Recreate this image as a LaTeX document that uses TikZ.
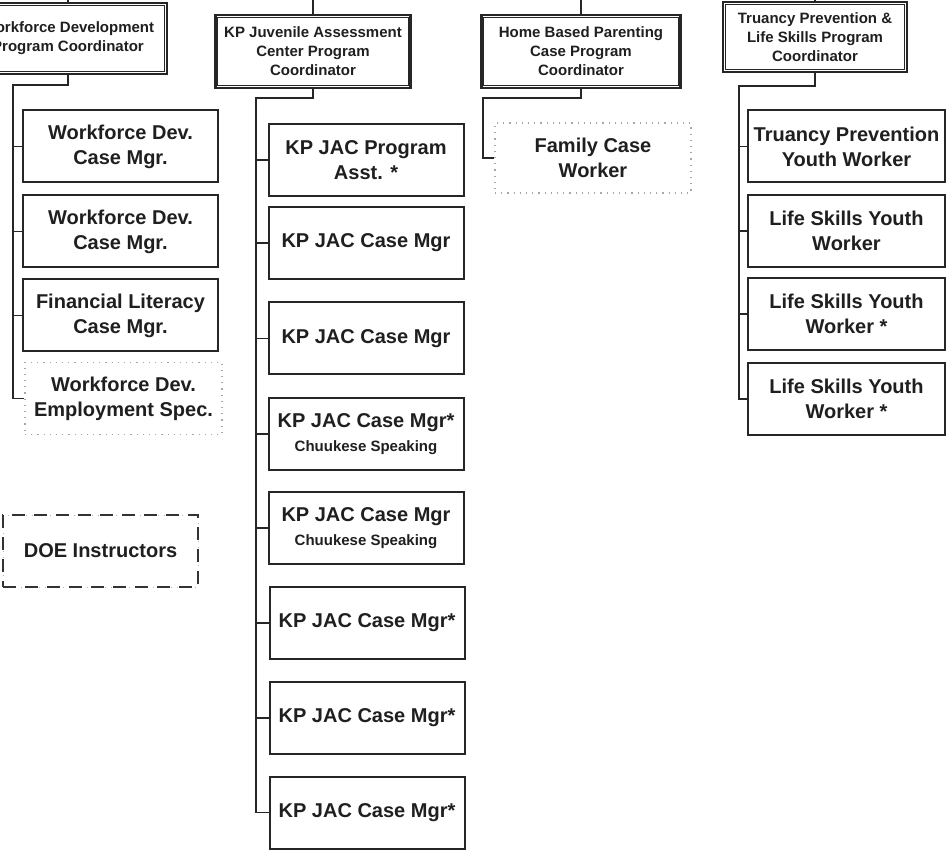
\documentclass[tikz,border=0pt]{standalone}
\usepackage{fontspec}
\setmainfont{Liberation Sans}
\begin{document}
\begin{tikzpicture}[x=1pt,y=-1pt,
  conn/.style={draw=black!85, line width=1.9pt},
  staff/.style={draw=black!85, line width=2pt, minimum width=195pt, minimum height=72pt,
    align=center, inner sep=1pt, text=black!88, font=\bfseries\fontsize{20}{25}\selectfont},
  dotbox/.style={staff, draw=black!35, line width=1.2pt, dash pattern=on 1.2pt off 5pt},
  dashbox/.style={staff, draw=black!80, line width=1.8pt, dash pattern=on 13pt off 9pt},
  coordbox/.style={draw=black!85, line width=2.6pt, minimum height=71pt, align=center,
    inner sep=1pt, text=black!88, font=\bfseries\fontsize{15}{19}\selectfont}
]
\useasboundingbox[fill=white] (0,0) rectangle (946,850);

% ---------- coordinators ----------
\node[coordbox, minimum width=198pt] (wdc) at (68,38.5) {Workforce Development\\Program Coordinator};
\node[coordbox, minimum width=195pt, minimum height=73pt] (kpc) at (313,51.5) {KP Juvenile Assessment\\Center Program\\Coordinator};
\node[coordbox, minimum width=199pt, minimum height=73pt] (hbc) at (581,51.5) {Home Based Parenting\\Case Program\\Coordinator};
\node[coordbox, minimum width=184pt, minimum height=70pt] (tpc) at (815,37) {Truancy Prevention \&\\Life Skills Program\\Coordinator};
\foreach \n in {wdc,kpc,hbc,tpc}{
  \draw[black!85, line width=0.9pt] ([shift={(3.6pt,-3.6pt)}]\n.north west) rectangle ([shift={(-3.6pt,3.6pt)}]\n.south east);
  \draw[conn] (\n.north) -- (\n.north |- 0,-5);
}

% ---------- Workforce column ----------
\node[staff] (wd1) at (120.5,146.5) {Workforce Dev.\\Case Mgr.};
\node[staff] (wd2) at (120.5,231.5) {Workforce Dev.\\Case Mgr.};
\node[staff] (fl)  at (120.5,315.5) {Financial Literacy\\Case Mgr.};
\node[dotbox, minimum width=197pt] (wde) at (123.5,398.5) {Workforce Dev.\\Employment Spec.};
\draw[black!30, line width=1pt, dash pattern=on 1pt off 5pt] (3,515) rectangle (198,587);
\node[dashbox] (doe) at (100.5,551) {DOE Instructors};
\coordinate (wbus) at (13,85);
\draw[conn] (wdc.south) |- (wbus) -- (wbus |- wde.west) -- (wde.west);
\foreach \c in {wd1,wd2,fl}{ \draw[conn] (wbus |- \c.west) -- (\c.west); }

% ---------- KP JAC column ----------
\node[staff] (k1) at (366,160) {KP JAC Program\\Asst. *};
\node[staff] (k2) at (366,243) {KP JAC Case Mgr};
\node[staff] (k3) at (366,338.5) {KP JAC Case Mgr};
\node[staff] (k4) at (366,434) {KP JAC Case Mgr*\\[-1pt]{\fontsize{15}{18}\selectfont Chuukese Speaking}};
\node[staff] (k5) at (366,528) {KP JAC Case Mgr\\[-1pt]{\fontsize{15}{18}\selectfont Chuukese Speaking}};
\node[staff] (k6) at (367,623) {KP JAC Case Mgr*};
\node[staff] (k7) at (367,718) {KP JAC Case Mgr*};
\node[staff] (k8) at (367,812.5) {KP JAC Case Mgr*};
\coordinate (kbus) at (256,98);
\draw[conn] (kpc.south) |- (kbus) -- (kbus |- k8.west) -- (k8.west);
\foreach \c in {k1,k2,k3,k4,k5,k6,k7}{ \draw[conn] (kbus |- \c.west) -- (\c.west); }

% ---------- Home based column ----------
\node[dotbox, minimum width=196pt, minimum height=70pt] (fcw) at (593,158) {Family Case\\Worker};
\coordinate (hbus) at (483,98);
\draw[conn] (hbc.south) |- (hbus) -- (hbus |- fcw.west) -- (fcw.west);

% ---------- Truancy column ----------
\node[staff, minimum width=197pt] (t1) at (846.5,146.5) {Truancy Prevention\\Youth Worker};
\node[staff, minimum width=197pt] (t2) at (846.5,231) {Life Skills Youth\\Worker};
\node[staff, minimum width=197pt] (t3) at (846.5,314) {Life Skills Youth\\Worker *};
\node[staff, minimum width=197pt] (t4) at (846.5,399) {Life Skills Youth\\Worker *};
\coordinate (tbus) at (739,86);
\draw[conn] (tpc.south) |- (tbus) -- (tbus |- t4.west) -- (t4.west);
\foreach \c in {t1,t2,t3}{ \draw[conn] (tbus |- \c.west) -- (\c.west); }
\end{tikzpicture}
\end{document}
